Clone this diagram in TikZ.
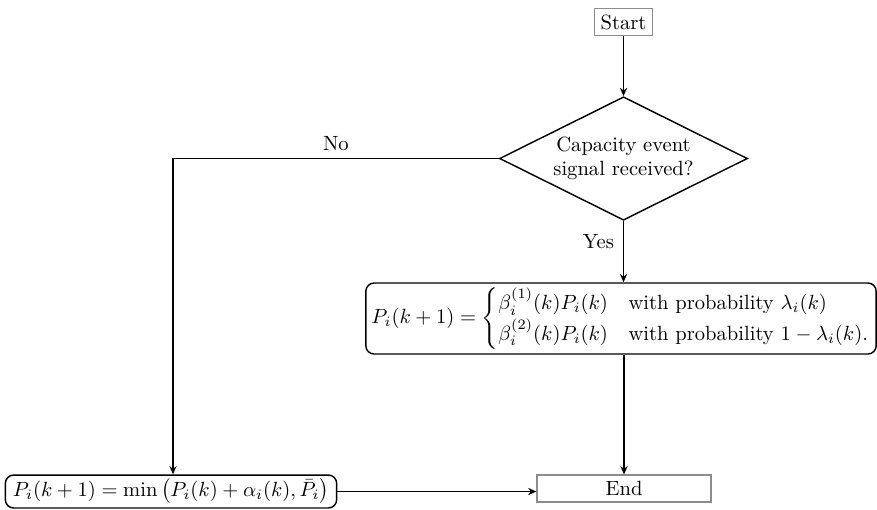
\documentclass[tikz,border=0pt]{standalone}
\usepackage{amsmath}
\usetikzlibrary{shapes.geometric,arrows.meta}
\begin{document}
\begin{tikzpicture}[x=0.486pt,y=-0.486pt,
  termbox/.style={draw=black!45,line width=0.6pt,rectangle,inner sep=3pt},
  decbox/.style={draw,diamond,aspect=2,line width=0.7pt,inner sep=0pt,minimum width=120.5pt,minimum height=60pt,align=center},
  procbox/.style={draw,rectangle,rounded corners=4pt,line width=0.7pt,inner sep=1.5pt},
  conn/.style={line width=0.7pt},
  arr/.style={conn,-{Stealth[length=4pt,width=3.5pt]}}]
\useasboundingbox (0,0) rectangle (877,509);
\node[termbox,minimum width=27.7pt,minimum height=12.6pt] (start) at (623.5,22) {Start};
\node[decbox] (dec) at (623.5,158.5) {Capacity event\\signal received?};
\node[procbox,minimum width=248pt,minimum height=34.5pt] (upd) at (621,318.5)
  {$P_i(k+1)=\begin{cases}\beta_i^{(1)}(k)P_i(k) & \text{with probability } \lambda_i(k)\\
   \beta_i^{(2)}(k)P_i(k) & \text{with probability } 1-\lambda_i(k).\end{cases}$};
\node[procbox,minimum width=161pt,minimum height=16pt] (inc) at (171,491.5)
  {$P_i(k+1)=\min\left(P_i(k)+\alpha_i(k),\bar{P}_i\right)$};
\node[termbox,minimum width=84.6pt,minimum height=13.1pt] (end) at (624,488.5) {End};
\coordinate (corner) at (173,158.5);
\draw[arr] (start.south) -- (start.south |- dec.north);
\draw[arr] (dec.south) -- node[pos=0.33,left,xshift=-1pt] {Yes} (upd.north -| dec.south);
\draw[arr] (dec.west) -- node[above,pos=0.5] {No} (corner) -- (corner |- inc.north);
\draw[arr] (upd.south -| end.north) -- (end.north);
\draw[arr] (inc.east) -- (inc.east -| end.west);
\end{tikzpicture}
\end{document}
